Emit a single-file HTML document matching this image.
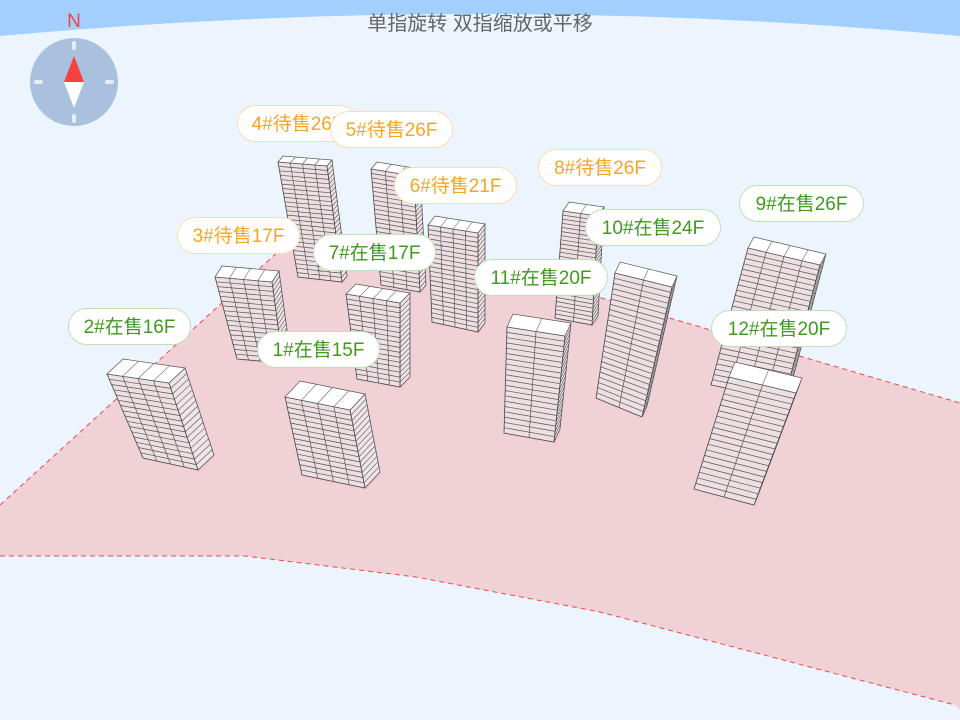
<!DOCTYPE html>
<html><head><meta charset="utf-8">
<style>
html,body{margin:0;padding:0;}
body{width:960px;height:720px;overflow:hidden;background:#ecf5fe;position:relative;font-family:"Liberation Sans","Noto Sans CJK SC",sans-serif;}
svg{position:absolute;left:0;top:0;}
.lab{position:absolute;height:37px;line-height:37px;border-radius:19px;background:#fff;font-size:19px;text-align:center;box-sizing:border-box;white-space:nowrap;}
.o{border:1.5px solid #fcdcae;color:#f5a623;}
.g{border:1.5px solid #bfe0b5;color:#3f9a1f;}
.title{position:absolute;left:0;width:960px;top:7px;text-align:center;font-size:20px;color:#666;}
</style></head><body>
<svg id="s" width="960" height="720" viewBox="0 0 960 720">
<path d="M0 0 H960 V36 Q480 -8 0 36 Z" fill="#a3cffe"/>
<polygon points="0,505 280,250 540,280 960,403 960,710 955,705 600,612 416,577 245,556 0,556" fill="#efd1d6"/>
<polyline points="0,505 280,250" fill="none" stroke="#f0464b" stroke-width="1" stroke-dasharray="5,4"/>
<polyline points="540,280 960,403" fill="none" stroke="#f0464b" stroke-width="1" stroke-dasharray="5,4"/>
<polyline points="0,556 245,556 416,577 600,612 955,705" fill="none" stroke="#f0464b" stroke-width="1" stroke-dasharray="5,4"/>
<circle cx="74" cy="82" r="44" fill="#a9c1de"/>
<g stroke="#e6eef8" stroke-width="4" stroke-linecap="round">
<line x1="74" y1="43" x2="74" y2="48"/><line x1="74" y1="116" x2="74" y2="121"/>
<line x1="36" y1="82" x2="41" y2="82"/><line x1="107" y1="82" x2="112" y2="82"/></g>
<polygon points="74,56 64,82 84,82" fill="#f4433f"/>
<polygon points="64,82 84,82 74,108" fill="#fff"/>
<text x="74" y="27" text-anchor="middle" font-size="19" fill="#f4433f" font-family="Liberation Sans, sans-serif">N</text>
<g id="b"></g>
</svg>
<div class="title">单指旋转 双指缩放或平移</div>
<div class="lab o" style="left:237px;top:105px;width:121px">4#待售26F</div>
<div class="lab o" style="left:330px;top:111px;width:123px">5#待售26F</div>
<div class="lab o" style="left:394px;top:167px;width:123px">6#待售21F</div>
<div class="lab o" style="left:538px;top:149px;width:124px">8#待售26F</div>
<div class="lab o" style="left:177px;top:217px;width:123px">3#待售17F</div>
<div class="lab g" style="left:313px;top:234px;width:123px">7#在售17F</div>
<div class="lab g" style="left:739px;top:185px;width:125px">9#在售26F</div>
<div class="lab g" style="left:585px;top:209px;width:136px">10#在售24F</div>
<div class="lab g" style="left:474px;top:259px;width:134px">11#在售20F</div>
<div class="lab g" style="left:68px;top:308px;width:123px">2#在售16F</div>
<div class="lab g" style="left:257px;top:331px;width:123px">1#在售15F</div>
<div class="lab g" style="left:711px;top:310px;width:136px">12#在售20F</div>
<script>
var B=[
[[278,162],[327,166],[298,277],[342,282],[5,-6],26,4],
[[371,169],[414,176],[381,285],[420,292],[6,-7],26,3],
[[563,211],[598,216],[555,318],[592,325],[6,-9],26,2],
[[428,225],[478,233],[432,322],[478,332],[7,-9],21,4],
[[215,277],[272,282],[237,359],[283,363],[7,-11],17,4],
[[346,294],[400,303],[357,379],[400,387],[10,-10],17,4],
[[748,248],[820,265],[711,385],[784,400],[6,-11],26,4],
[[615,273],[672,287],[596,398],[642,417],[5,-11],24,2],
[[507,327],[565,336],[504,433],[554,442],[6,-13],20,2],
[[107,374],[169,383],[143,458],[198,470],[16,-15],16,4],
[[285,397],[350,410],[302,475],[365,488],[15,-16],15,4],
[[729,377],[796,393],[694,489],[754,505],[6,-15],20,2]
];
function L(a,b,t){return [a[0]+(b[0]-a[0])*t,a[1]+(b[1]-a[1])*t];}
function A(p,d){return [p[0]+d[0],p[1]+d[1]];}
function P(arr){return arr.map(function(p){return p[0].toFixed(1)+','+p[1].toFixed(1)}).join(' ');}
var h='';
B.forEach(function(b){
 var TL=b[0],TR=b[1],BL=b[2],BR=b[3],D=b[4],n=b[5],c=b[6];
 var TRD=A(TR,D),BRD=A(BR,D),TLD=A(TL,D);
 h+='<polygon points="'+P([BL,BR,BRD])+'" fill="#f3c4c8" opacity="0.6" transform="translate(2,2)"/>';
 h+='<polygon points="'+P([TR,TRD,BRD,BR])+'" fill="#efe4e7" stroke="#444" stroke-width="0.7"/>';
 var s='';
 for(var i=1;i<n;i++){var t=i/n;var a=L(TR,BR,t),e=L(TRD,BRD,t);s+='M'+a[0].toFixed(1)+' '+a[1].toFixed(1)+'L'+e[0].toFixed(1)+' '+e[1].toFixed(1);}
 h+='<path d="'+s+'" stroke="#555" stroke-width="0.6"/>';
 h+='<polygon points="'+P([TL,TR,BR,BL])+'" fill="#eedfe3" stroke="#444" stroke-width="0.8"/>';
 s='';
 for(var i=1;i<n;i++){var t=i/n;var a=L(TL,BL,t),e=L(TR,BR,t);s+='M'+a[0].toFixed(1)+' '+a[1].toFixed(1)+'L'+e[0].toFixed(1)+' '+e[1].toFixed(1);}
 for(var j=1;j<c;j++){var t=j/c;var a=L(TL,TR,t),e=L(BL,BR,t);s+='M'+a[0].toFixed(1)+' '+a[1].toFixed(1)+'L'+e[0].toFixed(1)+' '+e[1].toFixed(1);}
 h+='<path d="'+s+'" stroke="#555" stroke-width="0.7"/>';
 h+='<polygon points="'+P([TL,TR,TRD,TLD])+'" fill="#fff" stroke="#555" stroke-width="0.7"/>';
 s='';
 for(var j=1;j<c;j++){var t=j/c;var a=L(TL,TR,t),e=L(TLD,TRD,t);s+='M'+a[0].toFixed(1)+' '+a[1].toFixed(1)+'L'+e[0].toFixed(1)+' '+e[1].toFixed(1);}
 h+='<path d="'+s+'" stroke="#666" stroke-width="0.6"/>';
});
document.getElementById('b').innerHTML=h;
</script>
</body></html>
